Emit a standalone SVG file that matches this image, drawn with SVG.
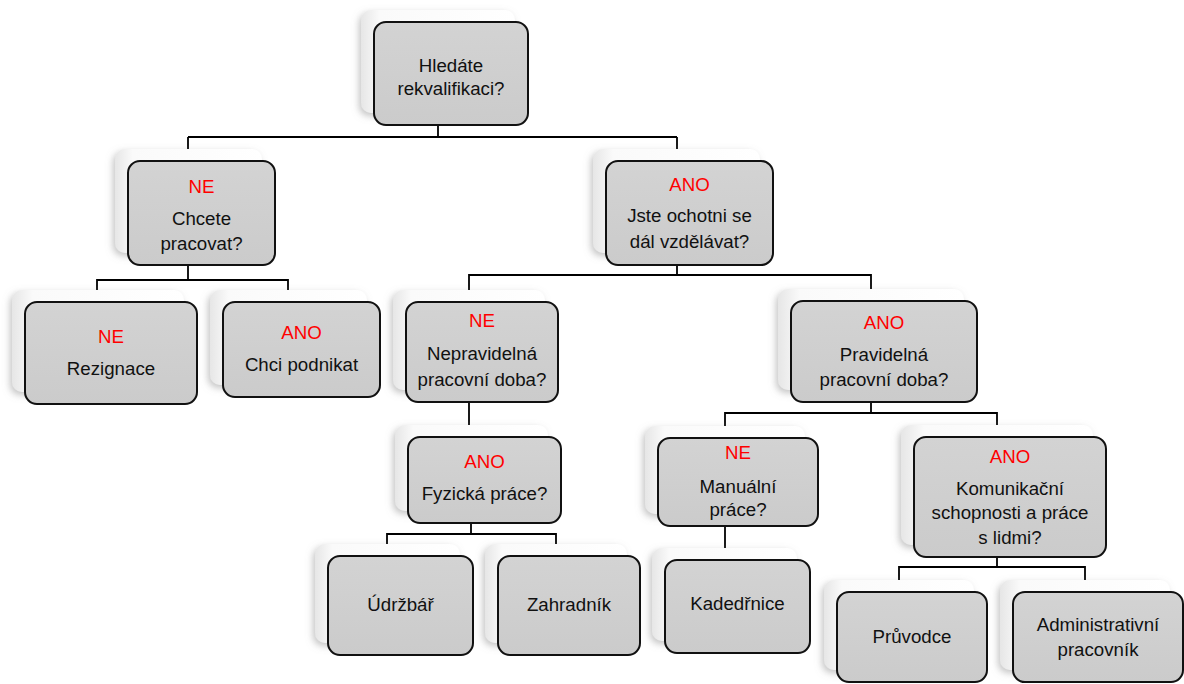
<svg xmlns="http://www.w3.org/2000/svg" width="1184" height="684" viewBox="0 0 1184 684">
<defs>
<filter id="sh" x="-20%" y="-20%" width="140%" height="140%">
<feDropShadow dx="-2" dy="3" stdDeviation="3.5" flood-color="#888" flood-opacity="0.5"/>
</filter>
<linearGradient id="bgg" x1="0" y1="0" x2="1" y2="0">
<stop offset="0" stop-color="#e6e6e6"/>
<stop offset="0.12" stop-color="#fafafa"/>
<stop offset="1" stop-color="#ffffff"/>
</linearGradient>
<linearGradient id="fg" x1="0" y1="0" x2="0" y2="1">
<stop offset="0" stop-color="#d3d3d3"/>
<stop offset="1" stop-color="#cbcbcb"/>
</linearGradient>
</defs>
<style>
.bg{fill:url(#bgg);filter:url(#sh)}
.box{fill:url(#fg);stroke:#111;stroke-width:2}
.t{font-family:"Liberation Sans",Arial,sans-serif;font-size:18.7px;fill:#111;text-anchor:middle}
.r{fill:#ff0000}
.c{fill:none;stroke:#000;stroke-width:1.8}
</style>
<rect width="1184" height="684" fill="#fff"/>
<g id="connectors">
<path class="c" d="M438,113 V137 M188,137 H677 M188,137 V149 M677,137 V149"/>
<path class="c" d="M188,253 V280 H97 V290 M188,280 H288 V290"/>
<path class="c" d="M677,253 V275 H469 V290 M677,275 H871 V289"/>
<path class="c" d="M469,390 V425"/>
<path class="c" d="M471,511 V534 H387 V544 M471,534 H556 V544"/>
<path class="c" d="M871,390 V413 H725 V426 M871,413 H997 V425"/>
<path class="c" d="M725,514 V548"/>
<path class="c" d="M997,545 V567 H899 V580 M997,567 H1085 V580"/>
</g>
<g id="n1">
<rect class="bg" x="361" y="10" width="154" height="103" rx="10"/>
<rect class="box" x="374" y="22" width="154" height="103" rx="12"/>
<text class="t" x="451" y="72">Hledáte</text>
<text class="t" x="451" y="95">rekvalifikaci?</text>
</g>
<g id="n2">
<rect class="bg" x="115" y="149" width="147" height="104" rx="10"/>
<rect class="box" x="128" y="161" width="147" height="104" rx="12"/>
<text class="t r" x="201.5" y="193">NE</text>
<text class="t" x="201.5" y="225">Chcete</text>
<text class="t" x="201.5" y="250">pracovat?</text>
</g>
<g id="n3">
<rect class="bg" x="593" y="149" width="167" height="104" rx="10"/>
<rect class="box" x="606" y="161" width="167" height="104" rx="12"/>
<text class="t r" x="689.5" y="191">ANO</text>
<text class="t" x="689.5" y="222">Jste ochotni se</text>
<text class="t" x="689.5" y="248">dál vzdělávat?</text>
</g>
<g id="n4">
<rect class="bg" x="12" y="290" width="172" height="102" rx="10"/>
<rect class="box" x="25" y="302" width="172" height="102" rx="12"/>
<text class="t r" x="111" y="343">NE</text>
<text class="t" x="111" y="375">Rezignace</text>
</g>
<g id="n5">
<rect class="bg" x="210" y="290" width="157" height="95" rx="10"/>
<rect class="box" x="223" y="302" width="157" height="95" rx="12"/>
<text class="t r" x="301.5" y="339">ANO</text>
<text class="t" x="301.5" y="371">Chci podnikat</text>
</g>
<g id="n6">
<rect class="bg" x="393" y="290" width="152" height="100" rx="10"/>
<rect class="box" x="406" y="302" width="152" height="100" rx="12"/>
<text class="t r" x="482" y="327">NE</text>
<text class="t" x="482" y="360">Nepravidelná</text>
<text class="t" x="482" y="386">pracovní doba?</text>
</g>
<g id="n7">
<rect class="bg" x="778" y="289" width="186" height="101" rx="10"/>
<rect class="box" x="791" y="301" width="186" height="101" rx="12"/>
<text class="t r" x="884" y="329">ANO</text>
<text class="t" x="884" y="361">Pravidelná</text>
<text class="t" x="884" y="386">pracovní doba?</text>
</g>
<g id="n8">
<rect class="bg" x="395" y="425" width="153" height="86" rx="10"/>
<rect class="box" x="408" y="437" width="153" height="86" rx="12"/>
<text class="t r" x="484.5" y="468">ANO</text>
<text class="t" x="484.5" y="500">Fyzická práce?</text>
</g>
<g id="n9">
<rect class="bg" x="645" y="426" width="160" height="88" rx="10"/>
<rect class="box" x="658" y="438" width="160" height="88" rx="12"/>
<text class="t r" x="738" y="459">NE</text>
<text class="t" x="738" y="493">Manuální</text>
<text class="t" x="738" y="516">práce?</text>
</g>
<g id="n10">
<rect class="bg" x="901" y="425" width="192" height="120" rx="10"/>
<rect class="box" x="914" y="437" width="192" height="120" rx="12"/>
<text class="t r" x="1010" y="463">ANO</text>
<text class="t" x="1010" y="495">Komunikační</text>
<text class="t" x="1010" y="519">schopnosti a práce</text>
<text class="t" x="1010" y="544">s lidmi?</text>
</g>
<g id="n11">
<rect class="bg" x="315" y="544" width="145" height="99" rx="10"/>
<rect class="box" x="328" y="556" width="145" height="99" rx="12"/>
<text class="t" x="400.5" y="611">Údržbář</text>
</g>
<g id="n12">
<rect class="bg" x="485" y="544" width="142" height="99" rx="10"/>
<rect class="box" x="498" y="556" width="142" height="99" rx="12"/>
<text class="t" x="569" y="611">Zahradník</text>
</g>
<g id="n13">
<rect class="bg" x="652" y="548" width="145" height="93" rx="10"/>
<rect class="box" x="665" y="560" width="145" height="93" rx="12"/>
<text class="t" x="737.5" y="610">Kadedřnice</text>
</g>
<g id="n14">
<rect class="bg" x="824" y="580" width="150" height="90" rx="10"/>
<rect class="box" x="837" y="592" width="150" height="90" rx="12"/>
<text class="t" x="912" y="643">Průvodce</text>
</g>
<g id="n15">
<rect class="bg" x="1000" y="580" width="170" height="90" rx="10"/>
<rect class="box" x="1013" y="592" width="170" height="90" rx="12"/>
<text class="t" x="1098" y="631">Administrativní</text>
<text class="t" x="1098" y="656">pracovník</text>
</g>
</svg>
